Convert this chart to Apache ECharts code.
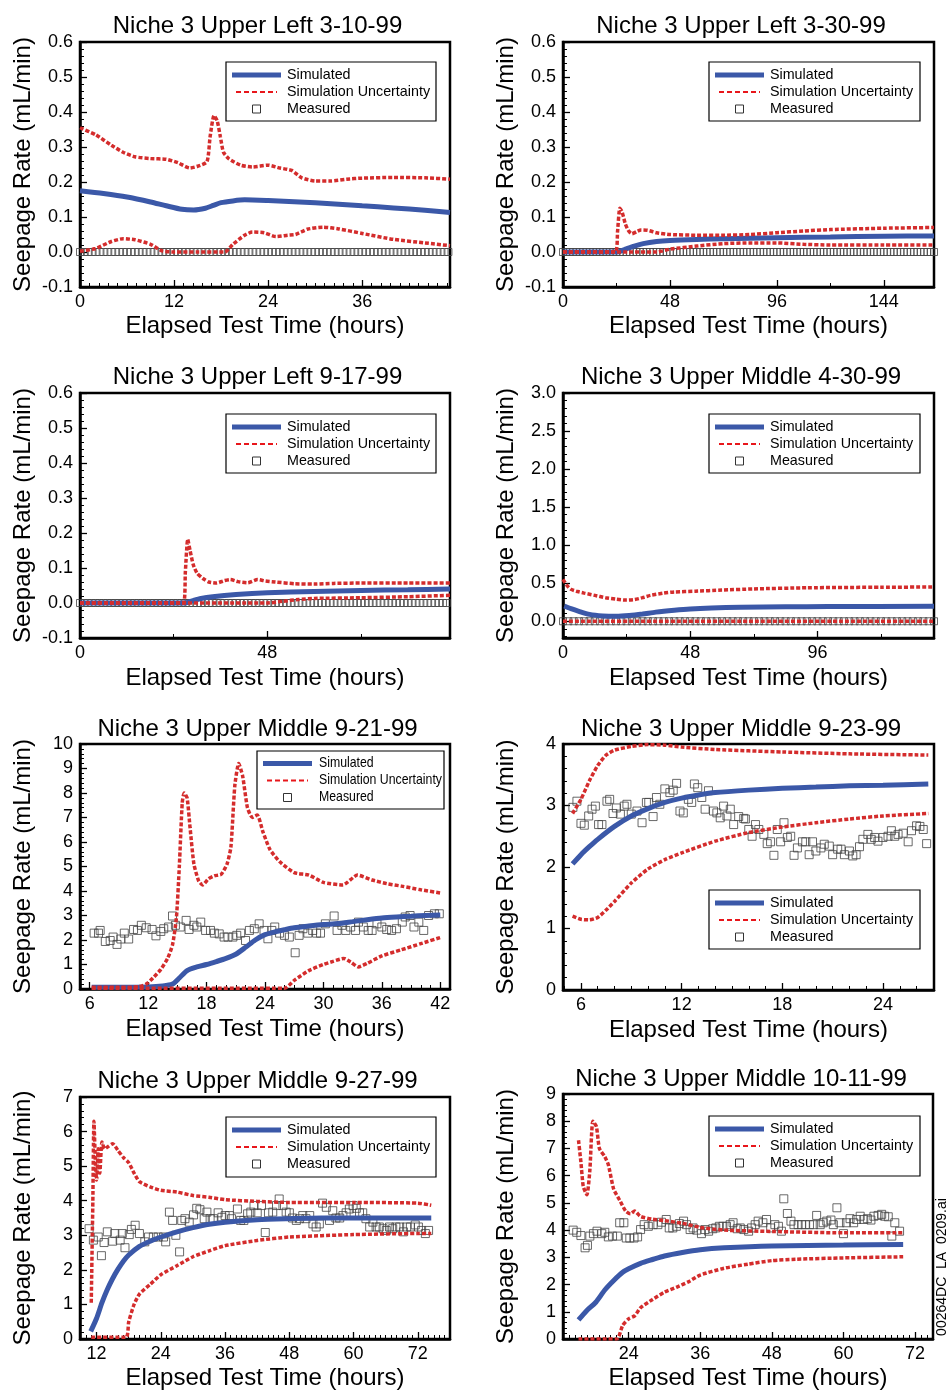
<!DOCTYPE html>
<html>
<head>
<meta charset="utf-8">
<script src="https://cdn.jsdelivr.net/npm/echarts@6/dist/echarts.min.js"></script>
<style>
  html, body { margin: 0; padding: 0; background: #fff; }
  #chart { width: 948px; height: 1391px; }
</style>
</head>
<body>
<div id="chart"></div>
<script>
// ---------- Panel titles ----------
const panelTitles = [
  'Niche 3 Upper Left 3-10-99',
  'Niche 3 Upper Left 3-30-99',
  'Niche 3 Upper Left 9-17-99',
  'Niche 3 Upper Middle 4-30-99',
  'Niche 3 Upper Middle 9-21-99',
  'Niche 3 Upper Middle 9-23-99',
  'Niche 3 Upper Middle 9-27-99',
  'Niche 3 Upper Middle 10-11-99'
];

// ---------- Axis ranges and tick labels (hours / mL/min) ----------
const xRanges = [[0, 47.2], [0, 166.5], [0, 94.8], [0, 140], [5, 43], [4.93, 27.04], [8.9, 78], [13, 75]];
const yRanges = [[-0.1, 0.6], [-0.1, 0.6], [-0.1, 0.6], [-0.22, 3.0], [0, 10], [0, 4], [0, 7], [0, 9]];
const xTickLabels = [
  [0, 12, 24, 36],
  [0, 48, 96, 144],
  [0, 48],
  [0, 48, 96],
  [6, 12, 18, 24, 30, 36, 42],
  [6, 12, 18, 24],
  [12, 24, 36, 48, 60, 72],
  [24, 36, 48, 60, 72]
];
const smallRateTicks = [-0.1, 0, 0.1, 0.2, 0.3, 0.4, 0.5, 0.6];
const yTickLabels = [
  smallRateTicks,
  smallRateTicks,
  smallRateTicks,
  [0, 0.5, 1.0, 1.5, 2.0, 2.5, 3.0],
  [0, 1, 2, 3, 4, 5, 6, 7, 8, 9, 10],
  [0, 1, 2, 3, 4],
  [0, 1, 2, 3, 4, 5, 6, 7],
  [0, 1, 2, 3, 4, 5, 6, 7, 8, 9]
];
const xMinorSteps = [1.2, 24, 24, 24, 1, 1, 1, 1];
const yMinorSteps = [0.02, 0.02, 0.02, 0.1, 0.2, 0.2, 0.2, 0.2];
const yLabelDecimals = [1, 1, 1, 1, 0, 0, 0, 0];

// ---------- Upper Left 3-10-99 ----------
const ul310Sim = [[0,0.175],[3,0.167],[6,0.157],[9,0.143],[11,0.132],[13,0.122],[14.5,0.12],[16,0.125],[17,0.133],[18,0.141],[19.5,0.146],[21,0.149],[24,0.147],[28,0.143],[32,0.138],[36,0.132],[40,0.126],[44,0.119],[47.2,0.113]];
const ul310Upper = [[0,0.355],[2,0.335],[4,0.305],[5.5,0.285],[7,0.272],[9,0.267],[11,0.265],[12.5,0.255],[14,0.24],[15,0.245],[16.2,0.258],[16.6,0.33],[17.1,0.39],[17.5,0.375],[17.9,0.33],[18.3,0.285],[19,0.266],[20.5,0.248],[22,0.243],[24,0.248],[25.5,0.24],[27,0.233],[28.3,0.212],[30,0.203],[32,0.203],[34,0.208],[36,0.211],[40,0.213],[44,0.212],[47.2,0.208]];
const ul310Lower = [[0,0.002],[2,0.01],[4,0.03],[5.5,0.038],[7,0.035],[9,0.022],[10.5,0.003],[12,0],[15,0],[18.5,0],[19.5,0.022],[21,0.048],[22,0.057],[23.5,0.055],[25,0.044],[26.5,0.048],[27.5,0.05],[29,0.065],[31,0.071],[33,0.066],[36,0.053],[40,0.036],[44,0.026],[47.2,0.018]];
const ul310MeasuredStart = 0, ul310MeasuredStep = 0.5;
const ul310Measured = [
  0,0,0,0,0,0,0,0,0,0, 0,0,0,0,0,0,0,0,0,0, 0,0,0,0,0,0,0,0,0,0,
  0,0,0,0,0,0,0,0,0,0, 0,0,0,0,0,0,0,0,0,0, 0,0,0,0,0,0,0,0,0,0,
  0,0,0,0,0,0,0,0,0,0, 0,0,0,0,0,0,0,0,0,0, 0,0,0,0,0,0,0,0,0,0,
  0,0,0,0,0
];

// ---------- Upper Left 3-30-99 ----------
const ul330Sim = [[0,0],[24.5,0],[28,0.008],[32,0.017],[36,0.024],[42,0.03],[48,0.033],[60,0.036],[72,0.038],[96,0.041],[120,0.043],[144,0.045],[166.5,0.046]];
const ul330Upper = [[0,0],[23.5,0],[24.5,0.06],[25.5,0.125],[26.5,0.115],[28,0.08],[29.5,0.06],[31,0.052],[33,0.058],[35,0.063],[38,0.062],[42,0.055],[48,0.05],[60,0.048],[72,0.048],[84,0.05],[96,0.055],[108,0.06],[120,0.064],[144,0.068],[166.5,0.07]];
const ul330Lower = [[0,0],[42,0],[48,0.008],[60,0.017],[72,0.024],[84,0.026],[96,0.026],[108,0.022],[120,0.02],[144,0.02],[166.5,0.02]];
const ul330MeasuredStart = 0, ul330MeasuredStep = 1.5;
const ul330Measured = [
  0,0,0,0,0,0,0,0,0,0, 0,0,0,0,0,0,0,0,0,0, 0,0,0,0,0,0,0,0,0,0,
  0,0,0,0,0,0,0,0,0,0, 0,0,0,0,0,0,0,0,0,0, 0,0,0,0,0,0,0,0,0,0,
  0,0,0,0,0,0,0,0,0,0, 0,0,0,0,0,0,0,0,0,0, 0,0,0,0,0,0,0,0,0,0,
  0,0,0,0,0,0,0,0,0,0, 0,0,0,0,0,0,0,0,0,0, 0,0
];

// ---------- Upper Left 9-17-99 ----------
const ul917Sim = [[0,0],[27,0],[29,0.007],[31,0.013],[34,0.018],[40,0.024],[48,0.029],[60,0.033],[72,0.036],[84,0.038],[94.8,0.04]];
const ul917Upper = [[0,0],[26.5,0],[27,0.09],[27.6,0.182],[28.2,0.15],[29,0.11],[30,0.085],[31.5,0.07],[33,0.06],[35,0.057],[37,0.064],[38.5,0.067],[40.5,0.061],[43,0.058],[45.5,0.067],[47.5,0.063],[50,0.06],[55,0.055],[60,0.054],[65,0.056],[72,0.057],[84,0.057],[94.8,0.057]];
const ul917Lower = [[0,0],[48,0],[52,0.005],[56,0.01],[60,0.013],[72,0.015],[84,0.018],[94.8,0.022]];
const ul917MeasuredStart = 0, ul917MeasuredStep = 1;
const ul917Measured = [
  0,0,0,0,0,0,0,0,0,0, 0,0,0,0,0,0,0,0,0,0, 0,0,0,0,0,0,0,0,0,0,
  0,0,0,0,0,0,0,0,0,0, 0,0,0,0,0,0,0,0,0,0, 0,0,0,0,0,0,0,0,0,0,
  0,0,0,0,0,0,0,0,0,0, 0,0,0,0,0,0,0,0,0,0, 0,0,0,0,0,0,0,0,0,0,
  0,0,0,0,0
];

// ---------- Upper Middle 4-30-99 ----------
const um430Sim = [[0.5,0.2],[3,0.165],[6,0.13],[10,0.09],[15,0.07],[20,0.065],[25,0.075],[30,0.095],[35,0.12],[42,0.145],[48,0.162],[56,0.175],[67,0.185],[84,0.19],[100,0.193],[140,0.197]];
const um430Upper = [[0,0.55],[1.5,0.47],[3,0.42],[5,0.395],[8,0.37],[12,0.34],[16,0.31],[20,0.29],[24,0.278],[27,0.285],[30,0.31],[33,0.34],[38,0.37],[42,0.385],[50,0.395],[60,0.41],[72,0.425],[92,0.44],[120,0.447],[140,0.45]];
const um430Lower = [[0,0],[35,0],[70,0],[105,0],[140,0]];
const um430MeasuredStart = 0, um430MeasuredStep = 2;
const um430Measured = [
  0,0,0,0,0,0,0,0,0,0, 0,0,0,0,0,0,0,0,0,0, 0,0,0,0,0,0,0,0,0,0,
  0,0,0,0,0,0,0,0,0,0, 0,0,0,0,0,0,0,0,0,0, 0,0,0,0,0,0,0,0,0,0,
  0,0,0,0,0,0,0,0,0,0, 0
];

// ---------- Upper Middle 9-21-99 ----------
const um921Sim = [[6.2,0.07],[9,0.07],[12,0.08],[13.5,0.12],[14.5,0.2],[15.2,0.45],[16,0.75],[17,0.9],[18,1.0],[19,1.12],[20,1.25],[21,1.42],[22,1.7],[23,2.0],[24,2.22],[25,2.33],[26,2.42],[27,2.5],[28.5,2.57],[30,2.63],[31.5,2.67],[33,2.75],[34.5,2.83],[36,2.9],[37.5,2.94],[39,2.97],[40.5,3.0],[42,3.02]];
const um921Upper = [[6.2,0.07],[9,0.07],[11,0.09],[11.8,0.2],[12.5,0.45],[13.3,0.8],[14,1.25],[14.5,1.8],[14.9,2.9],[15.2,5.0],[15.5,7.6],[15.7,8.0],[16,7.8],[16.3,6.6],[16.7,5.1],[17.2,4.4],[17.6,4.25],[18.2,4.5],[18.8,4.62],[19.5,4.68],[20.1,5.1],[20.5,5.8],[20.9,8.3],[21.3,9.2],[21.7,8.7],[22.2,7.4],[22.7,7.0],[23.2,7.1],[23.8,6.4],[24.5,5.7],[25.5,5.2],[27,4.75],[28.5,4.65],[30,4.35],[32,4.25],[33.5,4.65],[35,4.45],[36.5,4.3],[38,4.2],[40,4.05],[42,3.92]];
const um921Lower = [[6.2,0.03],[26,0.03],[27,0.35],[28.5,0.75],[30,1.0],[31,1.13],[32.1,1.25],[32.8,1.1],[33.6,0.9],[34.5,1.05],[36,1.35],[38,1.6],[40,1.85],[42,2.1]];
const um921Measured = [[6.45,2.28],[6.9,2.28],[7.07,2.39],[7.6,1.94],[8.1,1.98],[8.4,2.12],[8.8,1.82],[9.2,2.04],[9.55,2.28],[10.0,2.04],[10.5,2.43],[10.9,2.39],[11.3,2.6],[11.8,2.5],[12.4,2.43],[12.8,2.17],[13.3,2.35],[13.6,2.46],[14.1,2.53],[14.5,2.98],[14.8,2.6],[15.3,2.53],[15.9,2.8],[16.2,2.43],[16.7,2.6],[17.0,2.53],[17.4,2.73],[17.9,2.39],[18.4,2.39],[18.8,2.28],[19.3,2.25],[19.8,2.12],[20.2,2.12],[20.7,2.12],[21.1,2.19],[21.5,2.28],[22.0,1.98],[22.4,2.39],[22.9,2.46],[23.4,2.66],[23.9,2.39],[24.3,2.05],[24.7,2.39],[25.0,2.53],[25.5,2.28],[26.0,2.19],[26.5,2.12],[27.1,1.48],[27.5,2.19],[27.9,2.46],[28.4,2.28],[28.9,2.39],[29.3,2.28],[29.7,2.28],[30.2,2.66],[31.1,2.98],[31.4,2.39],[31.9,2.6],[32.3,2.39],[32.8,2.53],[33.3,2.39],[33.6,2.73],[34.1,2.53],[34.6,2.39],[35.0,2.39],[35.5,2.66],[36.0,2.53],[36.5,2.43],[37.0,2.39],[37.5,2.46],[38.1,2.73],[38.4,2.94],[38.9,3.0],[39.3,2.53],[39.8,2.73],[40.3,2.39],[40.8,3.0],[41.4,3.07],[41.9,3.07]];

// ---------- Upper Middle 9-23-99 ----------
const um923Sim = [[5.5,2.05],[6,2.2],[6.5,2.33],[7,2.45],[8,2.66],[9,2.83],[10,2.95],[11,3.05],[12,3.12],[13,3.17],[14,3.21],[16,3.25],[18,3.28],[20,3.3],[22,3.32],[24,3.33],[26.7,3.35]];
const um923Upper = [[5.5,2.87],[6,3.1],[6.5,3.4],[7,3.65],[7.5,3.82],[8,3.9],[9,3.96],[10,3.99],[11,3.98],[12,3.95],[14,3.91],[18,3.87],[22,3.84],[26.7,3.82]];
const um923Lower = [[5.5,1.2],[6,1.15],[6.5,1.14],[7,1.18],[7.5,1.3],[8,1.44],[9,1.74],[10,1.97],[11,2.12],[12,2.23],[14,2.42],[16,2.56],[18,2.65],[20,2.72],[22,2.78],[24,2.83],[26.7,2.87]];
const um923Measured = [[5.52,2.97],[5.76,3.07],[6.0,2.71],[6.2,2.68],[6.46,2.83],[6.66,2.94],[6.86,2.99],[7.05,2.69],[7.25,2.69],[7.55,3.07],[7.71,3.1],[7.91,2.87],[8.11,2.96],[8.35,2.86],[8.58,2.99],[8.74,3.02],[9.0,2.86],[9.34,2.91],[9.64,2.72],[9.9,3.05],[10.04,3.05],[10.3,2.82],[10.5,3.13],[10.7,3.02],[11.0,3.27],[11.3,3.21],[11.5,3.25],[11.7,3.36],[11.9,2.91],[12.1,2.88],[12.4,3.1],[12.6,3.05],[12.76,3.35],[12.96,3.29],[13.2,3.13],[13.4,2.94],[13.6,3.24],[13.9,2.91],[14.1,2.88],[14.3,2.8],[14.5,2.99],[14.7,2.83],[14.9,2.94],[15.1,2.69],[15.4,2.82],[15.7,2.79],[15.8,2.78],[16.0,2.61],[16.2,2.5],[16.4,2.69],[16.6,2.61],[16.9,2.53],[17.1,2.38],[17.3,2.41],[17.5,2.19],[17.7,2.61],[17.9,2.41],[18.1,2.72],[18.3,2.48],[18.5,2.5],[18.7,2.19],[18.9,2.31],[19.2,2.41],[19.4,2.41],[19.6,2.2],[19.8,2.41],[20.0,2.26],[20.3,2.31],[20.5,2.37],[20.8,2.34],[21.0,2.2],[21.3,2.29],[21.5,2.29],[21.7,2.2],[22.0,2.26],[22.2,2.18],[22.4,2.2],[22.6,2.33],[22.8,2.45],[23.1,2.53],[23.3,2.45],[23.5,2.48],[23.7,2.42],[24.0,2.48],[24.3,2.5],[24.5,2.59],[24.7,2.5],[24.9,2.53],[25.2,2.55],[25.5,2.41],[25.7,2.59],[26.0,2.67],[26.2,2.66],[26.4,2.61],[26.6,2.38]];

// ---------- Upper Middle 9-27-99 ----------
const um927Sim = [[10.9,0.22],[12,0.6],[13,1.05],[14,1.43],[15,1.75],[16,2.02],[17,2.25],[18,2.43],[20,2.68],[22,2.83],[24,2.95],[27,3.1],[30,3.22],[33,3.32],[36,3.38],[42,3.45],[48,3.48],[54,3.5],[60,3.5],[66,3.5],[72,3.5],[74.5,3.5]];
const um927Upper = [[11,1.05],[11.3,4.0],[11.5,6.3],[11.8,5.0],[12.0,4.6],[12.3,5.5],[12.6,4.8],[13,5.7],[13.5,5.5],[14,5.55],[15,5.65],[16,5.45],[17,5.25],[18,5.1],[19,4.8],[20,4.55],[22,4.4],[24,4.3],[27,4.25],[30,4.15],[33,4.1],[36,4.03],[42,3.98],[48,3.95],[60,3.95],[72,3.93],[74.5,3.87]];
const um927Lower = [[11,0.05],[17.5,0.05],[18,0.5],[19,1.0],[20,1.3],[22,1.58],[24,1.86],[27,2.12],[30,2.38],[33,2.55],[36,2.7],[42,2.85],[48,2.95],[60,3.02],[72,3.05],[74.5,3.05]];
const um927Measured = [[10.6,3.19],[11.4,2.86],[12.3,2.95],[12.9,2.41],[13.4,2.79],[14.0,3.1],[15.0,2.83],[15.4,3.05],[16.4,2.86],[16.8,3.05],[17.3,2.64],[18.1,3.02],[18.5,3.17],[19.2,3.29],[20.0,3.05],[21.0,2.81],[21.7,2.95],[22.6,2.95],[23.5,2.95],[24.5,2.95],[24.9,2.81],[25.6,3.67],[26.2,3.43],[26.8,3.0],[27.5,2.52],[27.9,3.43],[28.5,3.48],[29.3,3.38],[30.1,3.59],[30.7,3.78],[31.3,3.74],[32.1,3.48],[32.6,3.67],[33.2,3.48],[33.8,3.48],[34.7,3.65],[35.4,3.52],[36.0,3.57],[36.8,3.57],[37.2,3.48],[38.3,3.76],[38.9,3.43],[39.5,3.43],[40.2,3.62],[40.8,3.67],[41.4,3.86],[42.0,3.65],[42.8,3.86],[43.5,3.08],[44.1,3.65],[44.9,3.67],[45.6,3.86],[46.1,4.05],[46.8,3.86],[47.4,3.67],[48.0,3.65],[48.6,3.5],[49.3,3.43],[49.9,3.48],[50.5,3.57],[51.1,3.48],[51.8,3.57],[52.4,3.33],[53.0,3.24],[53.6,3.33],[54.2,3.93],[54.9,3.81],[55.5,3.43],[56.1,3.71],[56.7,3.5],[57.4,3.5],[58.0,3.57],[58.6,3.65],[59.2,3.76],[59.9,3.86],[60.5,3.78],[61.1,3.65],[61.7,3.65],[62.3,3.48],[63.0,3.24],[63.6,3.38],[64.2,3.24],[64.8,3.24],[65.5,3.19],[66.1,3.14],[66.7,3.24],[67.3,3.19],[67.9,3.24],[68.6,3.24],[69.3,3.1],[69.9,3.24],[70.6,3.24],[71.5,3.3],[72.1,3.24],[72.7,3.14],[73.4,3.05],[74.0,3.14]];

// ---------- Upper Middle 10-11-99 ----------
const um1011Sim = [[15.6,0.7],[17,1.05],[18.5,1.35],[20,1.8],[21.5,2.15],[23,2.45],[24,2.58],[26,2.78],[28,2.92],[30,3.05],[33,3.18],[36,3.28],[40,3.35],[48,3.42],[60,3.45],[70,3.47]];
const um1011Upper = [[15.6,7.3],[16,6.5],[16.4,5.6],[17,5.3],[17.5,6.2],[18,8.0],[18.6,7.8],[19.1,7.0],[20,6.7],[20.6,6.4],[21.5,5.5],[22.5,5.1],[23.5,4.7],[24.3,4.6],[25,4.7],[26,4.5],[28,4.4],[30,4.35],[33,4.25],[36,4.1],[40,4.0],[48,3.95],[60,3.9],[70,3.9]];
const um1011Lower = [[15.6,0],[22,0],[23,0.5],[24,0.74],[25,0.85],[26,1.15],[28,1.45],[30,1.72],[32,1.9],[34,2.1],[36,2.35],[40,2.6],[44,2.75],[48,2.88],[52,2.93],[60,2.98],[70,3.02]];
const um1011Measured = [[14.7,4.0],[15.3,3.92],[16.0,3.8],[16.7,3.35],[17.1,3.44],[17.5,3.78],[18.1,3.87],[18.7,3.96],[19.5,3.87],[20.0,3.92],[20.6,3.75],[21.3,3.78],[22.1,3.78],[22.5,4.27],[23.2,4.27],[23.6,3.71],[24.2,3.71],[24.9,3.71],[25.5,3.75],[26.0,4.02],[26.6,4.2],[27.3,4.14],[28.1,4.2],[28.9,4.2],[29.5,4.29],[30.3,4.39],[30.8,4.08],[31.4,4.08],[32.0,4.14],[32.5,4.24],[33.2,4.33],[33.7,4.2],[34.3,4.02],[34.8,4.08],[35.4,4.0],[36.2,3.87],[36.8,4.02],[37.4,3.96],[38.1,4.05],[38.6,4.08],[39.2,4.14],[39.8,4.14],[40.4,4.14],[41.0,4.2],[41.5,4.27],[42.2,4.05],[42.7,4.08],[43.3,4.02],[44.1,3.96],[44.6,4.08],[45.2,4.2],[45.7,4.33],[46.5,4.27],[47.1,4.39],[47.8,4.08],[48.5,4.2],[49.1,4.14],[49.6,3.96],[50.0,5.15],[50.6,4.61],[51.2,4.33],[51.7,4.2],[52.4,4.2],[53.0,4.2],[53.6,4.2],[54.3,4.2],[55.0,4.2],[55.5,4.54],[56.1,4.2],[56.6,4.27],[57.2,4.33],[57.9,4.37],[58.3,4.2],[58.9,4.82],[59.4,4.27],[60.0,3.87],[60.5,4.27],[61.1,4.42],[61.7,4.27],[62.2,4.39],[62.8,4.51],[63.4,4.39],[64.0,4.42],[64.6,4.37],[65.1,4.51],[65.8,4.54],[66.4,4.58],[66.9,4.51],[67.5,4.49],[68.1,3.78],[68.6,4.27],[69.4,3.96]];

// Logged readings at a fixed interval become [hour, rate] pairs
function timed(values, start, step) {
  return values.map((v, i) => [start + i * step, v]);
}

const simulated = [ul310Sim, ul330Sim, ul917Sim, um430Sim, um921Sim, um923Sim, um927Sim, um1011Sim];
const upperBound = [ul310Upper, ul330Upper, ul917Upper, um430Upper, um921Upper, um923Upper, um927Upper, um1011Upper];
const lowerBound = [ul310Lower, ul330Lower, ul917Lower, um430Lower, um921Lower, um923Lower, um927Lower, um1011Lower];
const measured = [
  timed(ul310Measured, ul310MeasuredStart, ul310MeasuredStep),
  timed(ul330Measured, ul330MeasuredStart, ul330MeasuredStep),
  timed(ul917Measured, ul917MeasuredStart, ul917MeasuredStep),
  timed(um430Measured, um430MeasuredStart, um430MeasuredStep),
  um921Measured, um923Measured, um927Measured, um1011Measured
];

// ---------- Layout (pixels) ----------
const layout = [
  { grid: [80, 42, 370, 245],    title: [257.5, 14],     legend: [226, 62, 210, 59],    xGap: 27, mark: 7 },
  { grid: [563, 42, 371, 245],   title: [741, 14],       legend: [709, 62, 211, 59],    xGap: 27, mark: 7 },
  { grid: [80, 393, 370, 245],   title: [257.5, 365.5],  legend: [226, 414, 210, 59],   xGap: 28, mark: 7 },
  { grid: [563, 393, 371, 245],  title: [741, 365.5],    legend: [709, 414, 211, 59],   xGap: 28, mark: 7 },
  { grid: [80, 744, 370, 245],   title: [257.5, 717],    legend: [257, 751, 187, 58],   xGap: 28, mark: 8, narrow: true },
  { grid: [563, 744, 371, 246],  title: [741, 717],      legend: [709, 890, 211, 59],   xGap: 28, mark: 8 },
  { grid: [80, 1097, 370, 246],  title: [257.5, 1069.5], legend: [226, 1117, 210, 60],  xGap: 27, mark: 8 },
  { grid: [563, 1094, 370, 246], title: [741, 1067],     legend: [709, 1116, 211, 60],  xGap: 27, mark: 8 }
];

const FONT = '"Liberation Sans", Arial, Helvetica, sans-serif';
const BLUE = '#3b58a8';
const RED = '#d42c2c';
const LEGEND_RED = '#e8161b';

function minorValues(min, max, step) {
  const out = [];
  const k0 = Math.ceil(min / step - 1e-9), k1 = Math.floor(max / step + 1e-9);
  for (let k = k0; k <= k1; k++) out.push(Math.round(k * step * 1e6) / 1e6);
  return out;
}

const grids = [], xAxes = [], yAxes = [], series = [], titles = [], graphics = [];

layout.forEach((L, i) => {
  const [gl, gt, gw, gh] = L.grid;
  grids.push({ left: gl, top: gt, width: gw, height: gh, show: true,
    borderColor: '#000', borderWidth: 2.5, backgroundColor: 'rgba(0,0,0,0)', containLabel: false });

  const [xmin, xmax] = xRanges[i];
  const [ymin, ymax] = yRanges[i];
  const dec = yLabelDecimals[i];

  // major x axis with labels
  xAxes.push({
    type: 'value', gridIndex: i, min: xmin, max: xmax, position: 'bottom',
    name: 'Elapsed Test Time (hours)', nameLocation: 'middle', nameGap: L.xGap,
    nameTextStyle: { fontFamily: FONT, fontSize: 24, color: '#000' },
    axisLine: { show: true, onZero: false, lineStyle: { color: '#000', width: 2.5 } },
    axisTick: { show: true, inside: true, length: 7, customValues: xTickLabels[i], lineStyle: { color: '#000', width: 1.3 } },
    axisLabel: { show: true, customValues: xTickLabels[i], margin: 6, fontFamily: FONT, fontSize: 18, color: '#000',
      formatter: v => String(v) },
    splitLine: { show: false }
  });
  // minor x ticks
  xAxes.push({
    type: 'value', gridIndex: i, min: xmin, max: xmax, position: 'bottom',
    axisLine: { show: false, onZero: false },
    axisTick: { show: true, inside: true, length: 4, customValues: minorValues(xmin, xmax, xMinorSteps[i]), lineStyle: { color: '#000', width: 1 } },
    axisLabel: { show: false }, splitLine: { show: false }
  });
  // major y axis with labels
  yAxes.push({
    type: 'value', gridIndex: i, min: ymin, max: ymax, position: 'left',
    name: 'Seepage Rate (mL/min)', nameLocation: 'middle', nameGap: 45,
    nameTextStyle: { fontFamily: FONT, fontSize: 24, color: '#000' },
    axisLine: { show: true, onZero: false, lineStyle: { color: '#000', width: 2.5 } },
    axisTick: { show: true, inside: true, length: 7, customValues: yTickLabels[i], lineStyle: { color: '#000', width: 1.3 } },
    axisLabel: { show: true, customValues: yTickLabels[i], margin: 7, fontFamily: FONT, fontSize: 18, color: '#000',
      formatter: v => dec ? Number(v).toFixed(dec) : String(v) },
    splitLine: { show: false }
  });
  // minor y ticks
  yAxes.push({
    type: 'value', gridIndex: i, min: ymin, max: ymax, position: 'left',
    axisLine: { show: false, onZero: false },
    axisTick: { show: true, inside: true, length: 4, customValues: minorValues(ymin, ymax, yMinorSteps[i]), lineStyle: { color: '#000', width: 1 } },
    axisLabel: { show: false }, splitLine: { show: false }
  });

  const ax = { xAxisIndex: 2 * i, yAxisIndex: 2 * i };
  series.push(Object.assign({
    type: 'scatter', name: 'Measured', data: measured[i], symbol: 'rect', symbolSize: L.mark,
    itemStyle: { color: 'rgba(0,0,0,0)', borderColor: '#444', borderWidth: 1 },
    clip: false, silent: true, z: 2
  }, ax));
  series.push(Object.assign({
    type: 'line', name: 'Simulated', data: simulated[i], symbol: 'none', smooth: 0.25,
    lineStyle: { color: BLUE, width: 5 }, silent: true, z: 3
  }, ax));
  [upperBound[i], lowerBound[i]].forEach(d => {
    series.push(Object.assign({
      type: 'line', name: 'Simulation Uncertainty', data: d, symbol: 'none', smooth: 0.2,
      lineStyle: { color: RED, width: 3.5, type: [4, 2] }, silent: true, z: 4
    }, ax));
  });

  titles.push({
    text: panelTitles[i], left: L.title[0], top: L.title[1], textAlign: 'center', padding: 0,
    textStyle: { fontFamily: FONT, fontSize: 24, fontWeight: 'normal', color: '#000', lineHeight: 24 }
  });

  // legend box
  const [lx, ly, lw, lh] = L.legend;
  const rows = L.narrow ? [12.5, 29.5, 46.5] : [13, 30, 47];
  const tx = lx + (L.narrow ? 62 : 61);
  const sx = L.narrow ? 0.86 : 1;
  graphics.push(
    { type: 'rect', z: 50, shape: { x: lx, y: ly, width: lw, height: lh }, style: { fill: '#fff', stroke: '#000', lineWidth: 1.2 } },
    { type: 'line', z: 51, shape: { x1: lx + 6, y1: ly + rows[0], x2: lx + 55, y2: ly + rows[0] }, style: { stroke: BLUE, lineWidth: 5 } },
    { type: 'line', z: 51, shape: { x1: lx + 10, y1: ly + rows[1], x2: lx + 51, y2: ly + rows[1] }, style: { stroke: LEGEND_RED, lineWidth: 2, lineDash: [5, 3] } },
    { type: 'rect', z: 51, shape: { x: lx + 26.5, y: ly + rows[2] - 4, width: 8, height: 8 }, style: { fill: 'rgba(0,0,0,0)', stroke: '#333', lineWidth: 1 } }
  );
  ['Simulated', 'Simulation Uncertainty', 'Measured'].forEach((t, k) => {
    graphics.push({ type: 'text', z: 51, x: tx, y: ly + rows[k], scaleX: sx,
      style: { text: t, font: '14.3px ' + FONT, fill: '#000', align: 'left', verticalAlign: 'middle' } });
  });
});

// drawing file reference along the right edge
graphics.push({ type: 'text', z: 51, x: 942, y: 1267, rotation: Math.PI / 2,
  style: { text: '00264DC_LA_0209.ai', font: '14px ' + FONT, fill: '#000', align: 'center', verticalAlign: 'middle' } });

const chart = echarts.init(document.getElementById('chart'), null, { renderer: 'canvas' });
chart.setOption({
  animation: false,
  backgroundColor: '#fff',
  textStyle: { fontFamily: FONT },
  title: titles,
  grid: grids,
  xAxis: xAxes,
  yAxis: yAxes,
  series: series,
  graphic: { elements: graphics }
});
</script>
</body>
</html>
